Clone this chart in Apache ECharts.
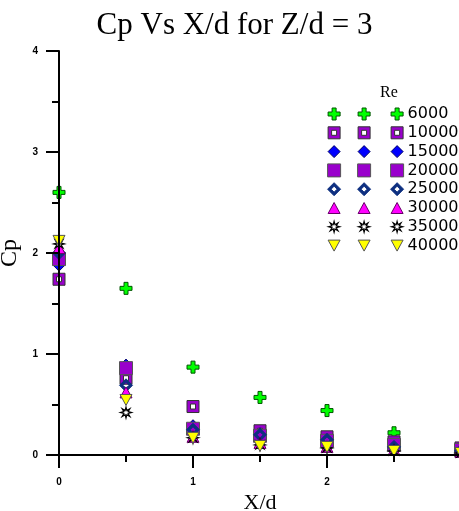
<!DOCTYPE html>
<html><head><meta charset="utf-8">
<script src="https://cdn.jsdelivr.net/npm/echarts@6/dist/echarts.min.js"></script>
<style>html,body{margin:0;padding:0;background:#fff}#c{width:459px;height:511px}</style>
</head><body><div id="c"></div>
<script>
// ---- data ----
const xValues = [0, 0.5, 1, 1.5, 2, 2.5, 3];
const reLabels = ['6000', '10000', '15000', '20000', '25000', '30000', '35000', '40000'];
const cp6000  = [2.60, 1.65, 0.87, 0.57, 0.44, 0.22, 0.06];
const cp10000 = [1.74, 0.76, 0.48, 0.24, 0.18, 0.13, 0.07];
const cp15000 = [1.88, 0.89, 0.29, 0.21, 0.15, 0.10, 0.05];
const cp20000 = [1.94, 0.86, 0.26, 0.19, 0.14, 0.10, 0.05];
const cp25000 = [2.00, 0.69, 0.25, 0.20, 0.15, 0.08, 0.04];
const cp30000 = [2.05, 0.62, 0.18, 0.12, 0.08, 0.05, 0.03];
const cp35000 = [2.09, 0.42, 0.17, 0.10, 0.07, 0.04, 0.02];
const cp40000 = [2.12, 0.545, 0.17, 0.09, 0.08, 0.04, 0.02];
const xTickLabels = ['0', '1', '2', '3'];
const yTickLabels = ['0', '1', '2', '3', '4'];

// ---- symbol shapes (polygons around origin) ----
function starPts(ro, ri, n) {
  const p = [];
  for (let k = 0; k < 2 * n; k++) {
    const a = -Math.PI / 2 + k * Math.PI / n;
    const r = k % 2 === 0 ? ro : ri;
    p.push([r * Math.cos(a), r * Math.sin(a)]);
  }
  return p;
}
const shapes = {
  cross: [[[-2,-6],[2,-6],[2,-2],[6,-2],[6,2],[2,2],[2,6],[-2,6],[-2,2],[-6,2],[-6,-2],[-2,-2]]],
  sqHole: [[[-6,-6],[6,-6],[6,6],[-6,6]], [[-2.5,-2.5],[-2.5,2.5],[2.5,2.5],[2.5,-2.5]]],
  diamond: [[[0,-6],[6,0],[0,6],[-6,0]]],
  square: [[[-6.5,-6.5],[6.5,-6.5],[6.5,6.5],[-6.5,6.5]]],
  hDiamond: [[[0,-6.5],[6.5,0],[0,6.5],[-6.5,0]], [[0,-3],[-3,0],[0,3],[3,0]]],
  tri: [[[0,-5.5],[6,5.5],[-6,5.5]]],
  star: [starPts(5.5, 2.3, 8)],
  dTri: [[[-6,-5.5],[6,-5.5],[0,5.5]]]
};
function polyPath(polys, dx, dy) {
  return polys.map(pts => 'M' + pts.map(p => (p[0] + dx).toFixed(2) + ',' + (p[1] + dy).toFixed(2)).join('L') + 'Z').join(' ');
}
function symPath(polys) { return 'path://M-6.5,-6.5 M6.5,6.5 ' + polyPath(polys, 0, 0); }
function legendPath(polys) {
  return 'path://M0,0 M76,13 ' + polyPath(polys, 6.5, 6.5) + ' ' + polyPath(polys, 36.5, 6.5) + ' ' + polyPath(polys, 69.5, 6.5);
}

const seriesDefs = [
  { name: reLabels[0], data: cp6000,  shape: 'cross',    color: '#00ff00', border: '#005500', bw: 1 },
  { name: reLabels[1], data: cp10000, shape: 'sqHole',   color: '#9900cc', border: '#333333', bw: 1 },
  { name: reLabels[2], data: cp15000, shape: 'diamond',  color: '#0000ff', border: '#000066', bw: 1 },
  { name: reLabels[3], data: cp20000, shape: 'square',   color: '#9900cc', border: '#555555', bw: 1 },
  { name: reLabels[4], data: cp25000, shape: 'hDiamond', color: '#0d2f80', border: '#0d2f80', bw: 1 },
  { name: reLabels[5], data: cp30000, shape: 'tri',      color: '#ff00ff', border: '#660066', bw: 1 },
  { name: reLabels[6], data: cp35000, shape: 'star',     color: '#ffffff', border: '#000000', bw: 1.2 },
  { name: reLabels[7], data: cp40000, shape: 'dTri',     color: '#ffff00', border: '#555555', bw: 1 }
];

const axisLine = { show: true, lineStyle: { color: '#000', width: 2 } };
const tickStyle = { color: '#000', width: 2 };
const labelStyle = { color: '#000', fontSize: 10, fontWeight: 'bold', fontFamily: 'Liberation Sans, Arial, sans-serif' };

const chart = echarts.init(document.getElementById('c'), null, { renderer: 'canvas' });
chart.setOption({
  animation: false,
  backgroundColor: '#fff',
  grid: { left: 59, top: 51, right: -2, bottom: 56, containLabel: false, outerBoundsMode: 'none' },
  graphic: [
    { type: 'text', x: 234.5, y: 26, z: 100,
      style: { text: 'Cp Vs X/d for Z/d = 3', fill: '#000', font: '31px "Liberation Serif", "Times New Roman", serif', textAlign: 'center', textVerticalAlign: 'middle' } },
    { type: 'text', x: 389, y: 93, z: 100,
      style: { text: 'Re', fill: '#000', font: '16px "Liberation Serif", "Times New Roman", serif', textAlign: 'center', textVerticalAlign: 'middle' } }
  ],
  legend: {
    orient: 'vertical', left: 327, top: 106, padding: 0,
    itemWidth: 76, itemHeight: 13, itemGap: 2.8, selectedMode: false,
    itemStyle: { borderWidth: 1 },
    textStyle: { color: '#000', fontSize: 16, lineHeight: 14, fontFamily: 'DejaVu Sans, sans-serif', padding: [0, 0, 0, -1] },
    data: seriesDefs.map(s => ({ name: s.name, icon: legendPath(shapes[s.shape]), itemStyle: { borderWidth: s.bw } }))
  },
  xAxis: {
    type: 'value', min: 0, max: 3, interval: 1, z: 10,
    name: 'X/d', nameLocation: 'middle', nameGap: 29,
    nameTextStyle: { color: '#000', fontSize: 22, fontFamily: 'Liberation Serif, Times New Roman, serif' },
    axisLine: axisLine,
    axisTick: { show: true, length: 13, lineStyle: tickStyle },
    minorTick: { show: true, splitNumber: 2, length: 7, lineStyle: tickStyle },
    splitLine: { show: false }, minorSplitLine: { show: false },
    axisLabel: Object.assign({ margin: 22, showMaxLabel: false, formatter: v => xTickLabels[Math.round(v)] }, labelStyle)
  },
  yAxis: {
    type: 'value', min: 0, max: 4, interval: 1, z: 10,
    name: 'Cp', nameLocation: 'middle', nameGap: 27,
    nameTextStyle: { color: '#000', fontSize: 24, fontFamily: 'Liberation Serif, Times New Roman, serif' },
    axisLine: axisLine,
    axisTick: { show: true, length: 13, lineStyle: tickStyle },
    minorTick: { show: true, splitNumber: 2, length: 7, lineStyle: tickStyle },
    splitLine: { show: false }, minorSplitLine: { show: false },
    axisLabel: Object.assign({ margin: 21, formatter: v => yTickLabels[Math.round(v)] }, labelStyle)
  },
  series: seriesDefs.map((s, i) => ({
    type: 'scatter', name: s.name, z: 2 + i * 0.01, clip: false,
    symbol: symPath(shapes[s.shape]), symbolSize: 13,
    itemStyle: { color: s.color, borderColor: s.border, borderWidth: s.bw, opacity: 1 },
    emphasis: { disabled: true },
    data: xValues.map((x, j) => [x, s.data[j]])
  }))
});
</script>
</body></html>
